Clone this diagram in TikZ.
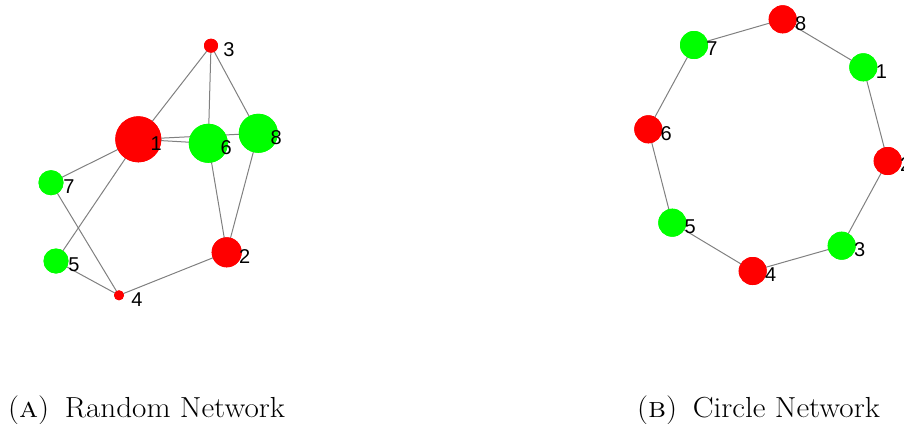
\documentclass[tikz,border=0pt]{standalone}
\usepackage{fontspec}
\newfontfamily\lblfont{Liberation Sans}
\usetikzlibrary{calc}
\definecolor{nred}{RGB}{255,0,0}
\definecolor{ngreen}{RGB}{0,255,0}
\definecolor{egray}{RGB}{128,128,128}
\tikzset{
  vtx/.style={circle, inner sep=0pt, draw=none},
  rv/.style={vtx, fill=nred},
  gv/.style={vtx, fill=ngreen},
  lbl/.style={inner sep=0pt, font=\lblfont\fontsize{20}{20}\selectfont, anchor=center},
  linkline/.style={draw=egray, line width=1pt},
  captext/.style={inner sep=0pt, anchor=base, font=\fontsize{29}{31}\selectfont}
}
\newcommand{\capbox}[2]{\scalebox{1.075}[1]{(\textsc{#1})\hspace{0.5em}#2}}
\begin{document}
\begin{tikzpicture}[x=1pt,y=-1pt]
\useasboundingbox (0,0) rectangle (904,423);
% Random network
\node[rv, minimum size=46pt] (a1) at (138.3,139.3) {};
\node[rv, minimum size=30pt] (a2) at (226.7,252.3) {};
\node[rv, minimum size=14pt] (a3) at (211,45.7) {};
\node[rv, minimum size=10pt] (a4) at (119,295.3) {};
\node[gv, minimum size=25pt] (a5) at (56,261) {};
\node[gv, minimum size=39pt] (a6) at (208.3,143.3) {};
\node[gv, minimum size=25pt] (a7) at (51,182.7) {};
\node[gv, minimum size=39pt] (a8) at (258.3,133.3) {};
% Circle network
\node[gv, minimum size=28pt] (b1) at (863.3,67.3) {};
\node[rv, minimum size=28pt] (b2) at (887.7,161) {};
\node[gv, minimum size=28pt] (b3) at (841.7,245.7) {};
\node[rv, minimum size=28pt] (b4) at (752.7,271) {};
\node[gv, minimum size=28pt] (b5) at (672.3,222.7) {};
\node[rv, minimum size=28pt] (b6) at (648.3,129.3) {};
\node[gv, minimum size=28pt] (b7) at (694,45) {};
\node[rv, minimum size=28pt] (b8) at (782.7,19.3) {};
% edges
\foreach \u/\v in {a1/a3,a1/a6,a1/a8,a1/a7,a1/a5,a3/a6,a3/a8,a6/a2,a8/a2,a2/a4,a4/a5,a4/a7,
                   b8/b1,b1/b2,b2/b3,b3/b4,b4/b5,b5/b6,b6/b7,b7/b8}
  \draw[linkline] (\u.center) -- (\v.center);
% redraw node discs over the edges
\foreach \n/\s/\c in {a1/46/nred,a2/30/nred,a3/14/nred,a4/10/nred,a5/25/ngreen,a6/39/ngreen,a7/25/ngreen,a8/39/ngreen,
                      b1/28/ngreen,b2/28/nred,b3/28/ngreen,b4/28/nred,b5/28/ngreen,b6/28/nred,b7/28/ngreen,b8/28/nred}
  \fill[\c] (\n.center) circle[radius=\s/2];
% labels
\foreach \n/\t in {a1/1,a2/2,a3/3,a4/4,a5/5,a6/6,a7/7,a8/8,b1/1,b2/2,b3/3,b4/4,b5/5,b6/6,b7/7,b8/8}
  \node[lbl] (l\n) at ($(\n.center)+(18,4)$) {\t};
% captions
\node[captext] (capa) at (146.5,417) {\capbox{a}{Random Network}};
\node[captext] (capb) at (758.5,417) {\capbox{b}{Circle Network}};
\end{tikzpicture}
\end{document}
